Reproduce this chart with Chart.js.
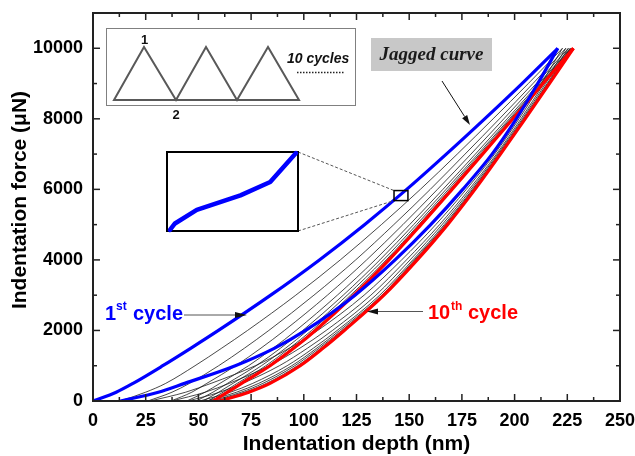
<!DOCTYPE html>
<html>
<head>
<meta charset="utf-8">
<script src="https://cdn.jsdelivr.net/npm/chart.js@4.4.0/dist/chart.umd.min.js"></script>
<style>
  html, body { margin: 0; padding: 0; background: #fff; }
  #wrap { width: 635px; height: 456px; position: relative; }
</style>
</head>
<body>
<div id="wrap"><canvas id="grafik"></canvas></div>
<script>
// =================
// DATA
// =================
// force levels (uN) where the depth of every curve was read off
let forceLevels = [0, 250, 500, 1000, 1500, 2000, 3000, 4000, 5000, 6000, 7000, 8000, 9000, 10000];

// depth (nm) of each curve at those force levels
let cycle1Load    = [0, 11, 19, 33.1, 46.5, 59.5, 84.3, 107.4, 128.8, 148.8, 167.6, 185.8, 203.5, 220.5];
let cycle1Unload  = [13, 31, 43.5, 67.5, 86.2, 100.8, 124.3, 143.3, 160.2, 175.4, 189.3, 200.8, 211, 220.5];
let cycle10Load   = [57, 63.8, 70.5, 84, 95.3, 105.5, 123.8, 140.4, 155.6, 170.3, 184.8, 199.2, 213.5, 227.9];
let cycle10Unload = [60, 73.9, 84, 98.3, 109.2, 119.2, 138, 153.8, 168.2, 181.2, 193.3, 205, 216.5, 227.9];

// cycles 2..9, thin black lines
let middleLoads = [
    [13, 25, 34.5, 48.4, 61.1, 73.3, 96.2, 117.3, 136.8, 155.3, 172.8, 189.8, 206.5, 222.7],
    [26, 37.5, 45.8, 59.6, 71.9, 83.4, 104.8, 124.6, 142.7, 160, 176.5, 192.8, 208.7, 224.3],
    [37, 46.9, 54, 67.7, 79.7, 90.8, 111.2, 129.8, 147, 163.4, 179.3, 194.9, 210.3, 225.5],
    [44.5, 53.2, 60.2, 73.8, 85.5, 96.3, 115.9, 133.8, 150.2, 166, 181.4, 196.5, 211.5, 226.4],
    [49, 56.9, 63.8, 77.4, 89, 99.5, 118.7, 136.1, 152.1, 167.5, 182.6, 197.5, 212.2, 226.9],
    [52.3, 59.6, 66.4, 79.9, 91.4, 101.8, 120.6, 137.8, 153.5, 168.6, 183.4, 198.1, 212.7, 227.3],
    [54.6, 61.7, 68.4, 82, 93.3, 103.7, 122.2, 139.1, 154.5, 169.4, 184.1, 198.7, 213.1, 227.6],
    [56.3, 63, 69.7, 83.2, 94.6, 104.8, 123.2, 139.9, 155.2, 170, 184.5, 199, 213.4, 227.8]
];
let middleUnloads = [
    [27.1, 44, 56, 77, 93.2, 106.6, 128.6, 146.4, 162.6, 177.1, 190.5, 202.1, 212.7, 222.7],
    [37.4, 53.2, 64.6, 83.6, 98.2, 110.6, 131.8, 148.7, 164.4, 178.4, 191.4, 203, 213.9, 224.3],
    [45, 60.1, 71, 88.4, 101.8, 113.6, 134.2, 150.4, 165.6, 179.3, 192, 203.7, 214.7, 225.5],
    [50.6, 65.2, 75.8, 92.1, 104.6, 115.8, 136, 151.7, 166.6, 180, 192.5, 204.2, 215.4, 226.4],
    [53.9, 68.1, 78.6, 94.3, 106.2, 117, 137, 152.4, 167.2, 180.4, 192.8, 204.5, 215.8, 226.9],
    [56.2, 70.3, 80.6, 95.7, 107.3, 118, 137.6, 152.9, 167.6, 180.7, 193, 204.7, 216.1, 227.3],
    [58.1, 72, 82.3, 97, 108.3, 118.7, 138.2, 153.4, 167.9, 181, 193.1, 204.8, 216.3, 227.6]
];

// axis ticks
let depthTicks = [0, 25, 50, 75, 100, 125, 150, 175, 200, 225, 250];
let depthMinor = [12.5, 37.5, 62.5, 87.5, 112.5, 137.5, 162.5, 187.5, 212.5, 237.5];
let forceTicks = [0, 2000, 4000, 6000, 8000, 10000];
let forceMinor = [1000, 3000, 5000, 7000, 9000];

// magnified piece of the 1st loading curve (the "jagged curve" inset)
let zoomWindowDepth = [142.8, 149.4];
let zoomWindowForce = [5682, 5966];
let zoomDepth = [142.95, 143.2, 144.3, 146.5, 148.0, 149.3];
let zoomForce = [5686, 5709, 5758, 5810, 5858, 5962];

// =================
// HELPERS
// =================
function toPoints(depths) {
    return depths.map((d, i) => ({ x: d, y: forceLevels[i] }));
}

function drawArrow(ctx, x1, y1, x2, y2, lineColor, headColor, headLen, headW) {
    let ang = Math.atan2(y2 - y1, x2 - x1);
    let bx = x2 - headLen * Math.cos(ang);
    let by = y2 - headLen * Math.sin(ang);
    ctx.strokeStyle = lineColor;
    ctx.lineWidth = 1;
    ctx.beginPath();
    ctx.moveTo(x1, y1);
    ctx.lineTo(bx, by);
    ctx.stroke();
    ctx.fillStyle = headColor;
    ctx.beginPath();
    ctx.moveTo(x2, y2);
    ctx.lineTo(bx + headW / 2 * Math.sin(ang), by - headW / 2 * Math.cos(ang));
    ctx.lineTo(bx - headW / 2 * Math.sin(ang), by + headW / 2 * Math.cos(ang));
    ctx.closePath();
    ctx.fill();
}

function line(ctx, x1, y1, x2, y2) {
    ctx.beginPath();
    ctx.moveTo(x1, y1);
    ctx.lineTo(x2, y2);
    ctx.stroke();
}

// =================
// FRAME, TICKS, TITLES, NOTES
// =================
let decorPlugin = {
    id: "decor",
    afterDraw(chart) {
        let ctx = chart.ctx;
        let a = chart.chartArea;
        let xs = chart.scales.x;
        let ys = chart.scales.y;
        ctx.save();

        // frame
        ctx.strokeStyle = "#222";
        ctx.lineWidth = 2;
        ctx.strokeRect(a.left, a.top, a.right - a.left, a.bottom - a.top);

        // inward ticks on all four sides
        ctx.lineWidth = 1.5;
        depthTicks.forEach(v => {
            let p = xs.getPixelForValue(v);
            line(ctx, p, a.bottom, p, a.bottom - 7);
            line(ctx, p, a.top, p, a.top + 7);
        });
        depthMinor.forEach(v => {
            let p = xs.getPixelForValue(v);
            line(ctx, p, a.bottom, p, a.bottom - 4);
            line(ctx, p, a.top, p, a.top + 4);
        });
        forceTicks.forEach(v => {
            let p = ys.getPixelForValue(v);
            line(ctx, a.left, p, a.left + 7, p);
            line(ctx, a.right, p, a.right - 7, p);
        });
        forceMinor.forEach(v => {
            let p = ys.getPixelForValue(v);
            line(ctx, a.left, p, a.left + 4, p);
            line(ctx, a.right, p, a.right - 4, p);
        });

        // axis titles
        ctx.fillStyle = "#000";
        ctx.font = "bold 21px 'Liberation Sans', Arial, sans-serif";
        ctx.textAlign = "center";
        ctx.textBaseline = "alphabetic";
        ctx.fillText("Indentation depth (nm)", (a.left + a.right) / 2, 450);
        ctx.save();
        ctx.translate(26, 200);
        ctx.rotate(-Math.PI / 2);
        ctx.fillText("Indentation force (\u03bcN)", 0, 0);
        ctx.restore();

        // cycle sketch box (top left)
        ctx.strokeStyle = "#808080";
        ctx.lineWidth = 1;
        ctx.strokeRect(106.5, 28.5, 249, 77);
        ctx.strokeStyle = "#595959";
        ctx.lineWidth = 2;
        ctx.beginPath();
        ctx.moveTo(114, 100);
        ctx.lineTo(144, 47);
        ctx.lineTo(176, 100);
        ctx.lineTo(206, 47);
        ctx.lineTo(237, 100);
        ctx.lineTo(268, 47);
        ctx.lineTo(299, 100);
        ctx.closePath();
        ctx.stroke();
        ctx.fillStyle = "#111";
        ctx.font = "bold 13px 'Liberation Sans', Arial, sans-serif";
        ctx.fillText("1", 144.5, 44);
        ctx.fillText("2", 176, 119);
        ctx.textAlign = "left";
        ctx.font = "italic bold 14px 'Liberation Sans', Arial, sans-serif";
        ctx.fillText("10 cycles", 287, 63);
        ctx.strokeStyle = "#222";
        ctx.lineWidth = 1.5;
        ctx.setLineDash([1.5, 1.5]);
        line(ctx, 297, 72.5, 345, 72.5);
        ctx.setLineDash([]);

        // "Jagged curve" label
        ctx.fillStyle = "#c8c8c8";
        ctx.fillRect(371, 38, 121, 33);
        ctx.fillStyle = "#1a1a1a";
        ctx.font = "italic bold 19px 'Liberation Serif', 'Times New Roman', serif";
        ctx.textAlign = "center";
        ctx.textBaseline = "middle";
        ctx.fillText("Jagged curve", 431.5, 55);
        drawArrow(ctx, 442, 81, 470, 125, "#111", "#111", 10, 6);

        // magnified inset
        let bx = 167, by = 152, bw = 131, bh = 79;
        let r1 = xs.getPixelForValue(zoomWindowDepth[0]);
        let r2 = xs.getPixelForValue(zoomWindowDepth[1]);
        let t1 = ys.getPixelForValue(zoomWindowForce[1]);
        let t2 = ys.getPixelForValue(zoomWindowForce[0]);
        ctx.strokeStyle = "#555";
        ctx.lineWidth = 1;
        ctx.setLineDash([3, 2]);
        line(ctx, bx + bw, by, r1, t1);
        line(ctx, bx + bw, by + bh, r1, t2);
        ctx.setLineDash([]);
        ctx.strokeStyle = "#000";
        ctx.lineWidth = 1.5;
        ctx.strokeRect(r1, t1, r2 - r1, t2 - t1);
        ctx.lineWidth = 2;
        ctx.strokeRect(bx, by, bw, bh);
        ctx.strokeStyle = "#0000ff";
        ctx.lineWidth = 4.5;
        ctx.lineJoin = "round";
        ctx.lineCap = "round";
        ctx.beginPath();
        zoomDepth.forEach((d, i) => {
            let px = bx + (d - zoomWindowDepth[0]) / (zoomWindowDepth[1] - zoomWindowDepth[0]) * bw;
            let py = by + bh - (zoomForce[i] - zoomWindowForce[0]) / (zoomWindowForce[1] - zoomWindowForce[0]) * bh;
            if (i === 0) ctx.moveTo(px, py); else ctx.lineTo(px, py);
        });
        ctx.stroke();
        ctx.lineCap = "butt";

        // "1st cycle" label
        ctx.textAlign = "left";
        ctx.textBaseline = "alphabetic";
        ctx.fillStyle = "#0000ff";
        ctx.font = "bold 20px 'Liberation Sans', Arial, sans-serif";
        ctx.fillText("1", 105, 320);
        ctx.fillText("cycle", 133, 320);
        ctx.font = "bold 12px 'Liberation Sans', Arial, sans-serif";
        ctx.fillText("st", 116, 310);
        drawArrow(ctx, 184, 315, 247, 315, "#555", "#111", 12, 6);

        // "10th cycle" label
        ctx.fillStyle = "#ff0000";
        ctx.font = "bold 20px 'Liberation Sans', Arial, sans-serif";
        ctx.fillText("10", 428, 318.5);
        ctx.fillText("cycle", 468, 318.5);
        ctx.font = "bold 12px 'Liberation Sans', Arial, sans-serif";
        ctx.fillText("th", 451, 309.5);
        drawArrow(ctx, 423, 311.5, 367, 311.5, "#555", "#111", 11, 6);

        ctx.restore();
    }
};

// =================
// DATASETS
// =================
let datasets = [];
datasets.push({ data: toPoints(cycle1Load), borderColor: "#0000ff", borderWidth: 3.2, order: 0 });
datasets.push({ data: toPoints(cycle1Unload), borderColor: "#0000ff", borderWidth: 3.2, order: 0 });
datasets.push({ data: toPoints(cycle10Load), borderColor: "#ff0000", borderWidth: 3.2, order: 0 });
datasets.push({ data: toPoints(cycle10Unload), borderColor: "#ff0000", borderWidth: 3.2, order: 0 });
middleLoads.concat(middleUnloads).forEach(c => {
    datasets.push({ data: toPoints(c), borderColor: "#1a1a1a", borderWidth: 0.8, order: 1 });
});
datasets.forEach(d => {
    d.showLine = true;
    d.pointRadius = 0;
    d.cubicInterpolationMode = "monotone";
    d.fill = false;
});

// =================
// CHART
// =================
let tickFont = { family: "'Liberation Sans', Arial, sans-serif", size: 18, weight: "bold" };

new Chart(document.getElementById("grafik").getContext("2d"), {
    type: "scatter",
    data: { datasets: datasets },
    options: {
        responsive: true,
        maintainAspectRatio: false,
        animation: false,
        layout: { padding: { top: 13, right: 15, left: 0, bottom: 0 } },
        plugins: { legend: { display: false }, tooltip: { enabled: false } },
        scales: {
            x: {
                type: "linear",
                min: 0,
                max: 250,
                grid: { display: false, drawTicks: false },
                border: { display: false },
                afterBuildTicks: s => { s.ticks = depthTicks.map(v => ({ value: v })); },
                afterFit: s => { s.height = 55; s.paddingLeft = 0; s.paddingRight = 0; },
                ticks: { padding: 9, color: "#000", font: tickFont, maxRotation: 0, autoSkip: false,
                         callback: v => String(v) }
            },
            y: {
                type: "linear",
                min: 0,
                max: 11000,
                grid: { display: false, drawTicks: false },
                border: { display: false },
                afterBuildTicks: s => { s.ticks = forceTicks.map(v => ({ value: v })); },
                afterFit: s => { s.width = 93; s.paddingTop = 0; s.paddingBottom = 0; },
                ticks: { padding: 10, color: "#000", font: tickFont, autoSkip: false,
                         callback: v => String(v) }
            }
        }
    },
    plugins: [decorPlugin]
});
</script>
</body>
</html>
